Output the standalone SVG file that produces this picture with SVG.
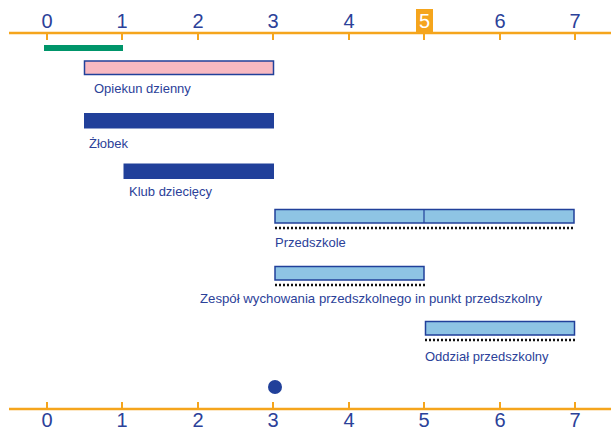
<svg xmlns="http://www.w3.org/2000/svg" width="611" height="430" viewBox="0 0 611 430">
<style>
.axis{stroke:#F5A51C;stroke-width:2.5;fill:none}
.tick{stroke:#F5A51C;stroke-width:2;fill:none}
.num{font-family:"Liberation Sans",Arial,sans-serif;font-size:20px;fill:#2B4199;text-anchor:middle}
.lbl{font-family:"Liberation Sans",Arial,sans-serif;font-size:13px;fill:#2B4199}
.dark{fill:#21409A;stroke:#21409A;stroke-width:1}
.light{fill:#8EC4E4;stroke:#21409A;stroke-width:1.5}
.pink{fill:#F8B9C1;stroke:#21409A;stroke-width:1.5}
.dots{stroke:#111;stroke-width:2.5;stroke-dasharray:2 2;fill:none}
</style>
<rect width="611" height="430" fill="#fff"/>
<g id="top-axis">
<line class="axis" x1="9" y1="33" x2="611" y2="33"/>
<path class="tick" d="M47 33V40M122 33V40M198 33V40M273 33V40M349 33V40M424 33V40M500 33V40M575 33V40"/>
<rect x="416" y="9" width="17" height="24" fill="#F5A51C"/>
<text class="num" x="47" y="28">0</text>
<text class="num" x="122" y="28">1</text>
<text class="num" x="198" y="28">2</text>
<text class="num" x="273" y="28">3</text>
<text class="num" x="349" y="28">4</text>
<text class="num" x="424.5" y="28" style="fill:#fff">5</text>
<text class="num" x="500" y="28">6</text>
<text class="num" x="575" y="28">7</text>
</g>
<g id="green-bar"><rect x="44" y="45" width="79" height="6" fill="#00956A"/></g>
<g id="opiekun">
<rect class="pink" x="84.5" y="61" width="189" height="13.5"/>
<text class="lbl" x="94" y="93">Opiekun dzienny</text>
</g>
<g id="zlobek">
<rect class="dark" x="84.5" y="113.5" width="189" height="14.5"/>
<text class="lbl" x="89" y="148">Żłobek</text>
</g>
<g id="klub">
<rect class="dark" x="124" y="164" width="149.5" height="14.5"/>
<text class="lbl" x="129" y="196">Klub dziecięcy</text>
</g>
<g id="przedszkole">
<rect class="light" x="275" y="209.5" width="299" height="13.5"/>
<line x1="424" y1="209.5" x2="424" y2="223" stroke="#21409A" stroke-width="1.2"/>
<line class="dots" x1="275" y1="228" x2="575" y2="228"/>
<text class="lbl" x="275" y="247">Przedszkole</text>
</g>
<g id="zespol">
<rect class="light" x="275" y="266.5" width="149" height="13.5"/>
<line class="dots" x1="275" y1="285" x2="425" y2="285"/>
<text class="lbl" x="200" y="303" textLength="342" lengthAdjust="spacingAndGlyphs">Zespół wychowania przedszkolnego in punkt przedszkolny</text>
</g>
<g id="oddzial">
<rect class="light" x="425.5" y="321.5" width="149" height="13.5"/>
<line class="dots" x1="425" y1="340" x2="576" y2="340"/>
<text class="lbl" x="425" y="361">Oddział przedszkolny</text>
</g>
<g id="dot"><circle cx="275" cy="387" r="7" fill="#21409A"/></g>
<g id="bottom-axis">
<line class="axis" x1="9" y1="409" x2="611" y2="409"/>
<path class="tick" d="M47 409V402M122 409V402M198 409V402M273 409V402M349 409V402M424 409V402M500 409V402M575 409V402"/>
<text class="num" x="47" y="427">0</text>
<text class="num" x="122" y="427">1</text>
<text class="num" x="198" y="427">2</text>
<text class="num" x="273" y="427">3</text>
<text class="num" x="349" y="427">4</text>
<text class="num" x="424" y="427">5</text>
<text class="num" x="500" y="427">6</text>
<text class="num" x="575" y="427">7</text>
</g>
<g id="connectors"></g>
</svg>
